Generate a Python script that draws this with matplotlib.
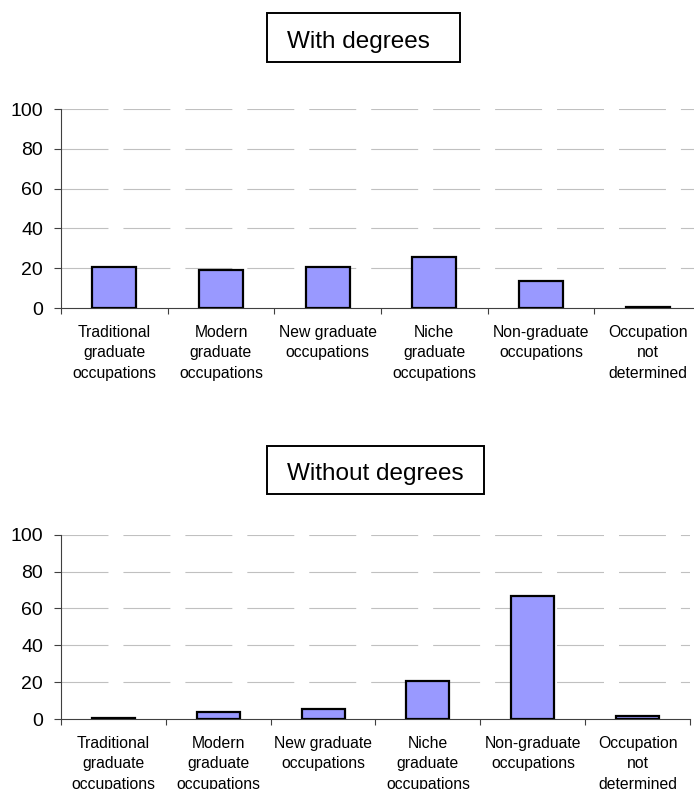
import numpy as np
import matplotlib
matplotlib.use('Agg')
import matplotlib.pyplot as plt
from matplotlib.patches import Rectangle

plt.rcParams['font.family'] = ['Liberation Sans', 'DejaVu Sans']
plt.rcParams['lines.scale_dashes'] = False

# Occupation categories
categories = ['Traditional\ngraduate\noccupations',
              'Modern\ngraduate\noccupations',
              'New graduate\noccupations',
              'Niche\ngraduate\noccupations',
              'Non-graduate\noccupations',
              'Occupation\nnot\ndetermined']

# Percentages for each group
with_degrees    = [20.5, 19, 20.5, 25.5, 13.5, 0.5]
without_degrees = [0.8, 4, 5.6, 20.4, 67, 1.8]

panel_titles = ['With degrees', 'Without degrees']
yticks = [0, 20, 40, 60, 80, 100]

W, H = 694, 789
fig = plt.figure(figsize=(W / 100, H / 100), dpi=100)

# axes rectangles in pixels: left, right, bottom(y of 0), top(y of 100)
ax_px = [(61, 701, 308, 109), (60.7, 690.3, 719, 534.7)]
# title boxes in pixels: x0, x1, y0, y1, text baseline
box_px = [(266.7, 459.7, 13.3, 62.3, 48.3), (266.7, 483.7, 445.7, 494.3, 480)]

x = np.arange(len(categories))

for values, title, (l, r, b, t), (bx0, bx1, by0, by1, base) in zip(
        [with_degrees, without_degrees], panel_titles, ax_px, box_px):

    ax = fig.add_axes([l / W, 1 - b / H, (r - l) / W, (b - t) / H])
    ax.bar(x, values, width=0.41, color='#9999ff', edgecolor='black',
           linewidth=1.6, zorder=3)

    ax.set_xlim(-0.5, len(categories) - 0.5)
    ax.set_ylim(0, 100)

    # dashed grid, skipping the zero line
    for yv in yticks[1:]:
        ax.axhline(yv, color='#c0c0c0', linewidth=0.8,
                   linestyle=(0, (33.8, 10.8)), zorder=1)

    ax.set_yticks(yticks)
    ax.tick_params(axis='y', labelsize=14, length=4.8, width=0.8,
                   color='#404040', pad=8)

    # tick marks between categories, labels centred under the bars
    ax.set_xticks(np.arange(-0.5, len(categories), 1.0))
    ax.set_xticklabels([])
    ax.set_xticks(x, minor=True)
    ax.set_xticklabels(categories, minor=True, fontsize=11.3,
                       linespacing=1.46)
    ax.tick_params(axis='x', which='major', length=4, width=0.8,
                   color='#404040')
    ax.tick_params(axis='x', which='minor', length=0, pad=12)

    for side in ['top', 'right']:
        ax.spines[side].set_visible(False)
    for side in ['left', 'bottom']:
        ax.spines[side].set_color('#404040')
        ax.spines[side].set_linewidth(0.8)

    fig.patches.append(Rectangle((bx0 / W, 1 - by1 / H), (bx1 - bx0) / W,
                                 (by1 - by0) / H, transform=fig.transFigure,
                                 facecolor='white', edgecolor='black',
                                 linewidth=1.4))
    fig.text(287 / W, 1 - base / H, title, fontsize=17.5,
             ha='left', va='baseline')

plt.savefig('out.png', dpi=100)
plt.close()
